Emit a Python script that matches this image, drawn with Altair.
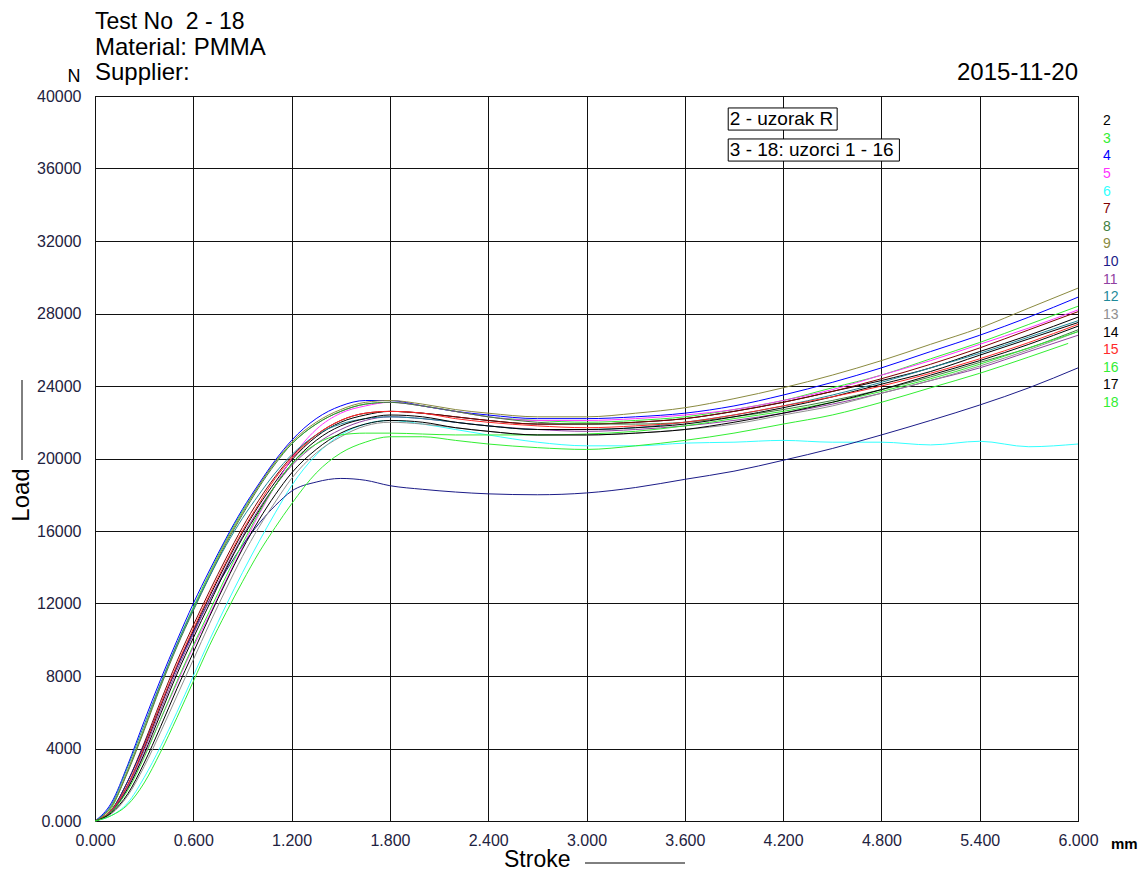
import altair as alt
import pandas as pd

# ---------------- data ----------------
X = [0.0, 0.1, 0.2, 0.3, 0.4, 0.5, 0.6, 0.7, 0.8, 0.9, 1.0, 1.1, 1.2, 1.35, 1.5, 1.65, 1.8,
     2.0, 2.2, 2.4, 2.7, 3.0, 3.3, 3.6, 3.9, 4.2, 4.5, 4.8, 5.1, 5.4, 5.7, 6.0]
X18 = X[:-1] + [5.94]

S2 = [0, 550, 2000, 4000, 6300, 8500, 10500, 12400, 14200, 15900, 17400, 18700, 19900, 21200, 22000, 22400, 22600,
      22500, 22300, 22100, 21900, 21900, 22000, 22200, 22600, 23100, 23700, 24300, 25000, 25900, 26800, 27800]
S3 = [0, 700, 2800, 5100, 7500, 9750, 11800, 13700, 15500, 17100, 18500, 19800, 20800, 21900, 22600, 23000, 23100,
      22900, 22600, 22300, 22100, 22000, 22100, 22300, 22700, 23200, 23900, 24600, 25500, 26400, 27400, 28400]
S4 = [0, 1000, 3100, 5500, 7800, 9950, 12000, 13850, 15600, 17200, 18600, 19900, 21000, 22200, 22900, 23200, 23200,
      22900, 22600, 22400, 22200, 22200, 22300, 22500, 22900, 23500, 24200, 25000, 25900, 26800, 27800, 28900]
S5 = [0, 500, 1800, 3600, 5600, 7600, 9600, 11400, 13300, 15100, 16900, 18500, 20000, 21600, 22500, 22900, 23100,
      22900, 22600, 22300, 22100, 22100, 22200, 22400, 22700, 23200, 23800, 24600, 25400, 26300, 27200, 28200]
S6 = [0, 300, 1000, 2400, 4100, 6000, 8000, 10000, 11900, 13700, 15400, 17000, 18500, 20200, 21300, 21900, 22100,
      21900, 21600, 21300, 20900, 20700, 20700, 20850, 20900, 21000, 20900, 20900, 20750, 20950, 20650, 20800]
S7 = [0, 600, 2200, 4300, 6600, 8800, 10800, 12700, 14500, 16200, 17700, 19000, 20100, 21300, 22100, 22500, 22600,
      22500, 22300, 22100, 21900, 21900, 22000, 22200, 22600, 23100, 23700, 24400, 25200, 26100, 27100, 28100]
S8 = [0, 800, 2700, 5000, 7400, 9600, 11600, 13500, 15300, 16900, 18400, 19700, 20800, 21900, 22600, 23000, 23100,
      22900, 22600, 22300, 22000, 21900, 21900, 22000, 22300, 22700, 23200, 23800, 24500, 25300, 26100, 27100]
S9 = [0, 800, 2800, 5100, 7500, 9700, 11700, 13600, 15400, 17000, 18500, 19800, 20900, 22000, 22700, 23100, 23200,
      23000, 22700, 22500, 22300, 22300, 22500, 22800, 23300, 23900, 24600, 25400, 26300, 27200, 28300, 29400]
S10 = [0, 600, 2200, 4200, 6400, 8500, 10400, 12200, 13800, 15200, 16400, 17400, 18200, 18700, 18900, 18800, 18500,
       18300, 18150, 18050, 18000, 18100, 18400, 18850, 19300, 19900, 20550, 21300, 22100, 22950, 23900, 25000]
S11 = [0, 550, 1900, 3900, 6100, 8300, 10300, 12200, 14000, 15700, 17200, 18500, 19600, 20800, 21600, 22100, 22300,
       22200, 22000, 21800, 21600, 21500, 21600, 21800, 22100, 22500, 23000, 23600, 24300, 25000, 25900, 26800]
S12 = [0, 900, 3000, 5300, 7600, 9750, 11700, 13500, 15200, 16700, 18000, 19200, 20200, 21300, 21900, 22200, 22300,
       22200, 22000, 21800, 21600, 21600, 21700, 22000, 22400, 22900, 23500, 24200, 25000, 25800, 26700, 27600]
S13 = [0, 400, 1400, 3000, 4900, 6900, 8900, 10900, 12800, 14600, 16200, 17600, 18900, 20300, 21200, 21800, 22000,
       21900, 21700, 21500, 21300, 21300, 21400, 21600, 21900, 22400, 22900, 23600, 24300, 25100, 26000, 27000]
S14 = [0, 500, 1800, 3700, 5900, 8100, 10100, 12000, 13900, 15600, 17100, 18500, 19700, 21000, 21800, 22200, 22400,
       22300, 22000, 21800, 21600, 21600, 21700, 21900, 22300, 22800, 23400, 24100, 24800, 25700, 26600, 27500]
S15 = [0, 600, 2000, 4100, 6400, 8600, 10600, 12500, 14300, 16000, 17500, 18900, 20000, 21300, 22100, 22500, 22600,
       22500, 22200, 22000, 21800, 21700, 21800, 22000, 22400, 22900, 23400, 24000, 24700, 25500, 26400, 27400]
S16 = [0, 500, 1700, 3500, 5600, 7700, 9700, 11600, 13500, 15300, 17000, 18500, 19700, 20800, 21300, 21400, 21400,
       21350, 21300, 21300, 21300, 21350, 21500, 21800, 22200, 22600, 23100, 23700, 24400, 25200, 26100, 27000]
S17 = [0, 450, 1500, 3200, 5200, 7300, 9300, 11300, 13200, 15000, 16600, 18000, 19200, 20500, 21400, 21900, 22100,
       22000, 21700, 21500, 21300, 21300, 21400, 21600, 22000, 22500, 23100, 23800, 24600, 25400, 26300, 27300]
S18 = [0, 300, 900, 2100, 3800, 5700, 7700, 9700, 11500, 13200, 14800, 16200, 17500, 19200, 20300, 20900, 21200,
       21200, 21000, 20800, 20600, 20500, 20700, 21000, 21400, 21900, 22400, 23100, 23900, 24700, 25600, 26350]

NAMES = ["2", "3", "4", "5", "6", "7", "8", "9", "10", "11", "12", "13", "14", "15", "16", "17", "18"]
COLORS = ["#000000", "#33ee33", "#0000ff", "#ff33ff", "#33ffff", "#800000", "#3f7f3f", "#8a8a40",
          "#1c1c88", "#9040a0", "#1f8a9a", "#909090", "#000000", "#ff2a2a", "#33ee33", "#000000", "#33ee33"]
SERIES = [S2, S3, S4, S5, S6, S7, S8, S9, S10, S11, S12, S13, S14, S15, S16, S17, S18]

X_TICKS = [0, 0.6, 1.2, 1.8, 2.4, 3.0, 3.6, 4.2, 4.8, 5.4, 6.0]
Y_TICKS = [0, 4000, 8000, 12000, 16000, 20000, 24000, 28000, 32000, 36000, 40000]

TITLE_LINES = ["Test No\u00a0\u00a02 - 18", "Material: PMMA", "Supplier:"]
DATE_TEXT = "2015-11-20"
X_TITLE = "Stroke"
Y_TITLE = "Load"
X_UNIT = "mm"
Y_UNIT = "N"

ANN_TEXT = ["2 - uzorak R", "3 - 18: uzorci 1 - 16"]
ANN_X = [3.875, 3.875]
ANN_Y = [38730, 37020]
BOX_X1 = [3.865, 3.865]
BOX_X2 = [4.53, 4.91]
BOX_Y1 = [38120, 36410]
BOX_Y2 = [39340, 37630]

# ---------------- build ----------------
rows = []
for i, (name, vals) in enumerate(zip(NAMES, SERIES)):
    xs = X18 if name == "18" else X
    for x, v in zip(xs, vals):
        rows.append({"stroke": x, "load": v, "series": name, "ord": i})
df = pd.DataFrame(rows)

FONT = "Liberation Sans, Arial, sans-serif"
LABC = "#1e2240"
GRID = "#111111"
W, H = 983, 725

xscale = alt.Scale(domain=[0, 6], nice=False, zero=True)
yscale = alt.Scale(domain=[0, 40000], nice=False, zero=True)
cscale = alt.Scale(domain=NAMES, range=COLORS)

XAX = alt.Axis(values=X_TICKS, format=".3f", title=None, ticks=False, labelFlush=False,
               labelOverlap=False, labelPadding=11, labelFontSize=16, labelFont=FONT,
               labelColor=LABC, grid=True, gridColor=GRID, gridWidth=1, domainColor=GRID)
YAX = alt.Axis(values=Y_TICKS, labelExpr="datum.value == 0 ? '0.000' : format(datum.value, 'd')",
               title=None, ticks=False, labelOverlap=False, labelPadding=14, labelFontSize=16,
               labelFont=FONT, labelColor=LABC, grid=True, gridColor=GRID, gridWidth=1,
               domainColor=GRID)

lines = alt.Chart(df).mark_line(strokeWidth=1, interpolate="monotone").encode(
    x=alt.X("stroke:Q", scale=xscale, axis=XAX, title=None),
    y=alt.Y("load:Q", scale=yscale, axis=YAX, title=None),
    color=alt.Color("series:N", scale=cscale, legend=None),
    detail="series:N",
    order="stroke:Q",
)

ann_df = pd.DataFrame({"t": ANN_TEXT, "x": ANN_X, "y": ANN_Y, "x1": BOX_X1, "x2": BOX_X2,
                       "y1": BOX_Y1, "y2": BOX_Y2})
boxes = alt.Chart(ann_df).mark_rect(fill="white", stroke="black", strokeWidth=1).encode(
    x=alt.X("x1:Q", scale=xscale, axis=XAX, title=None), x2="x2:Q",
    y=alt.Y("y1:Q", scale=yscale, axis=YAX, title=None), y2="y2:Q")
ann_text = alt.Chart(ann_df).mark_text(align="left", baseline="middle", fontSize=19, font=FONT,
                                       color="black").encode(
    x=alt.X("x:Q", scale=xscale, axis=XAX, title=None),
    y=alt.Y("y:Q", scale=yscale, axis=YAX, title=None), text="t:N")

leg_df = pd.DataFrame({"series": NAMES})
legend = alt.Chart(leg_df).mark_text(align="left", baseline="middle", fontSize=14, font=FONT).encode(
    x=alt.value(1008),
    y=alt.Y("series:N", scale=alt.Scale(domain=NAMES, range=[25, 307], padding=0), axis=None),
    text="series:N",
    color=alt.Color("series:N", scale=cscale, legend=None),
)


def label(txt, x, y, size, align="left", baseline="alphabetic", angle=0, weight="normal", color="black"):
    return alt.Chart(pd.DataFrame({"t": [txt]})).mark_text(
        align=align, baseline=baseline, fontSize=size, font=FONT, angle=angle, fontWeight=weight,
        color=color).encode(x=alt.value(x), y=alt.value(y), text="t:N")


texts = [
    label(TITLE_LINES[0], 0, -67, 23),
    label(TITLE_LINES[1], 0, -41, 24),
    label(TITLE_LINES[2], 0, -16, 24),
    label(DATE_TEXT, W, -16, 24, align="right"),
    label(Y_UNIT, -21, -14, 18, align="center"),
    label(X_UNIT, 1016, 753, 15, weight="bold"),
    label(X_TITLE, 409, 771, 23),
    label(Y_TITLE, -66, 399, 24, align="center", angle=270),
]

rule_x = alt.Chart(pd.DataFrame({"a": [0]})).mark_rule(color="black", strokeWidth=1).encode(
    x=alt.value(490), x2=alt.value(590), y=alt.value(767))
rule_y = alt.Chart(pd.DataFrame({"a": [0]})).mark_rule(color="black", strokeWidth=1).encode(
    x=alt.value(-73), y=alt.value(284), y2=alt.value(364))

main = alt.layer(lines, boxes, ann_text, *texts, rule_x, rule_y)
chart = alt.layer(main, legend).resolve_scale(y="independent").properties(
    width=W, height=H,
    autosize=alt.AutoSizeParams(type="none"),
    padding={"left": 87, "top": 88, "right": 60, "bottom": 51},
    background="white",
).configure_view(stroke=GRID, strokeWidth=1)

chart.save("out.html", embed_options={"renderer": "svg", "actions": False})
